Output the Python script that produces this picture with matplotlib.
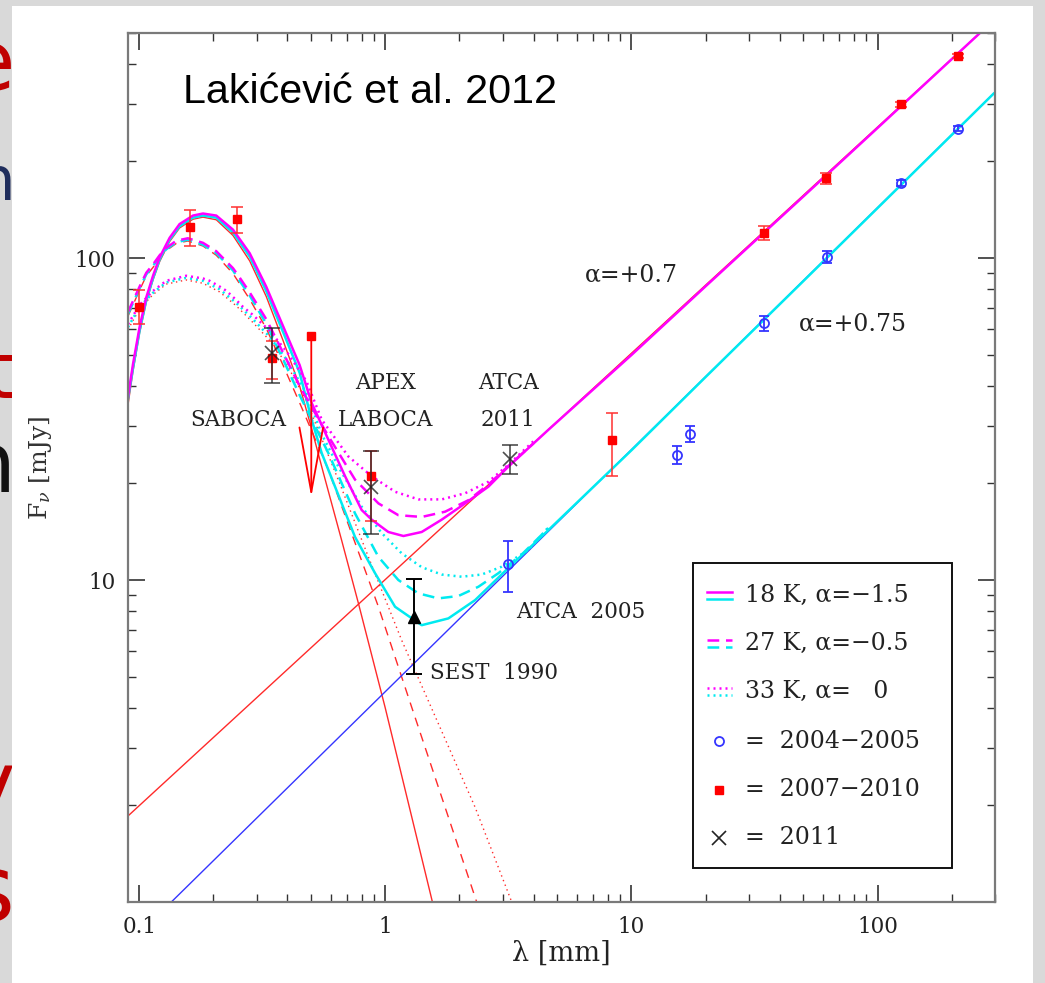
import matplotlib as mpl
mpl.use('Agg')
import matplotlib.pyplot as plt
from matplotlib.patches import Rectangle
from matplotlib.lines import Line2D
from matplotlib.ticker import FixedLocator, FixedFormatter, NullFormatter

mpl.rcParams['font.family'] = 'DejaVu Serif'
mpl.rcParams['mathtext.fontset'] = 'dejavuserif'
mpl.rcParams['font.size'] = 15.5

# --- model curves: wavelength [mm], flux [mJy] ---
# dust components (red)
lam_d18 = [0.09, 0.0943, 0.1003, 0.1068, 0.1137, 0.121, 0.1328, 0.1458, 0.1653, 0.1815, 0.2056,
           0.2404, 0.281, 0.328, 0.3838, 0.4485, 0.5017, 0.56, 0.664, 0.777, 0.997, 1.553]
f_d18 = [35.0, 44.5, 58.5, 73.0, 85.5, 97.5, 112.5, 124.0, 132.0, 134.0, 131.5,
         117.5, 98.0, 76.0, 55.5, 40.0, 29.5, 21.5, 13.3, 8.47, 4.03, 1.0]
lam_d27 = [0.09, 0.1003, 0.1068, 0.1137, 0.121, 0.1288, 0.1414, 0.1576, 0.1815, 0.2056, 0.2404,
           0.281, 0.328, 0.3838, 0.4485, 0.5864, 0.814, 0.937, 1.279, 1.748, 2.35]
f_d27 = [66.0, 79.5, 88.0, 93.5, 100.0, 105.5, 111.0, 113.0, 109.0, 102.0, 89.5,
         74.5, 60.5, 46.5, 35.5, 22.0, 11.1, 8.26, 4.03, 1.97, 1.0]
lam_d33 = [0.09, 0.1003, 0.1137, 0.1288, 0.155, 0.1815, 0.212, 0.248, 0.29, 0.3386, 0.396,
           0.4775, 0.551, 0.66, 0.853, 1.165, 1.642, 2.315, 3.262]
f_d33 = [60.0, 69.5, 77.0, 83.0, 85.5, 83.5, 78.5, 71.0, 63.0, 55.5, 47.0,
         36.0, 27.5, 19.5, 11.8, 6.5, 3.58, 1.97, 1.0]

# synchrotron power laws
lam_s07 = [0.09, 265.0]
f_s07 = [1.85, 506.0]
lam_s075 = [0.135, 296.0]
f_s075 = [1.0, 324.0]

# totals, alpha=+0.7 synchrotron (magenta)
lam_m18 = [0.09, 0.0943, 0.1003, 0.1068, 0.1137, 0.121, 0.1328, 0.1458, 0.1653, 0.1815, 0.2056,
           0.2404, 0.281, 0.328, 0.3838, 0.4485, 0.5017, 0.5864, 0.686, 0.801, 0.880, 1.028,
           1.184, 1.405, 1.694, 2.109, 2.623, 3.16, 4.6, 10, 20, 50, 100, 265]
f_m18 = [37.0, 46.8, 61.0, 75.5, 88.0, 100.5, 115.5, 127.5, 135.5, 137.5, 135.5,
         122.5, 103.5, 81.5, 61.5, 46.5, 35.5, 27.3, 21.0, 16.5, 15.4, 14.1,
         13.7, 14.1, 15.4, 17.3, 19.5, 22.5, 29.3, 50.0, 81.7, 155.5, 253.6, 506.0]
lam_m27 = [0.09, 0.1003, 0.1068, 0.1137, 0.121, 0.1288, 0.1414, 0.1576, 0.1815, 0.2056, 0.2189,
           0.2404, 0.2557, 0.281, 0.328, 0.3838, 0.4485, 0.5864, 0.753, 0.937, 1.129, 1.405,
           1.748, 2.175, 2.623, 3.16, 4.0]
f_m27 = [68.0, 81.5, 90.0, 95.5, 102.0, 107.5, 113.2, 115.2, 111.5, 105.0, 100.0,
         93.0, 87.0, 78.2, 64.6, 50.9, 40.0, 28.0, 20.5, 17.3, 15.9, 15.7,
         16.3, 17.7, 19.8, 22.6, 26.6]
lam_m33 = [0.09, 0.1003, 0.1137, 0.1288, 0.155, 0.1815, 0.193, 0.212, 0.226, 0.248, 0.264,
           0.29, 0.3386, 0.396, 0.4775, 0.551, 0.7073, 0.880, 1.095, 1.362, 1.694, 2.109,
           2.623, 3.16, 4.0]
f_m33 = [62.3, 71.5, 79.0, 85.0, 88.1, 86.4, 85.0, 81.6, 79.1, 74.0, 70.5,
         66.5, 59.4, 51.4, 41.5, 31.5, 24.2, 21.0, 18.8, 17.8, 17.8, 18.6,
         20.2, 22.8, 27.0]

# totals, alpha=+0.75 synchrotron (cyan)
lam_c18 = [0.09, 0.0943, 0.1003, 0.1068, 0.1137, 0.121, 0.1328, 0.1458, 0.1653, 0.1815, 0.2056,
           0.2404, 0.281, 0.328, 0.3838, 0.4485, 0.5017, 0.551, 0.753, 0.908, 1.095, 1.405,
           1.803, 2.315, 3.16, 4.6, 10, 20, 50, 100, 296]
f_c18 = [36.5, 45.5, 59.5, 74.0, 86.5, 99.0, 114.0, 125.5, 133.5, 135.5, 133.5,
         120.0, 101.0, 79.0, 59.0, 44.0, 31.5, 24.8, 13.6, 10.5, 8.26, 7.24,
         7.6, 8.66, 10.9, 14.3, 25.3, 42.7, 84.9, 143.0, 324.0]
lam_c27 = [0.09, 0.1003, 0.1068, 0.1137, 0.121, 0.1288, 0.1414, 0.1576, 0.1815, 0.2056, 0.2189,
           0.2404, 0.2557, 0.281, 0.328, 0.3838, 0.4485, 0.5864, 0.753, 0.937, 1.129, 1.362,
           1.642, 1.98, 2.388, 2.879, 3.58, 4.6]
f_c27 = [67.0, 80.5, 89.0, 94.5, 101.0, 106.5, 112.0, 114.0, 110.0, 103.5, 98.5,
         91.5, 85.0, 76.5, 62.5, 48.5, 37.5, 24.8, 16.1, 11.8, 10.0, 9.09,
         8.77, 8.92, 9.53, 10.5, 12.0, 14.5]
lam_c33 = [0.09, 0.1003, 0.1137, 0.1288, 0.155, 0.1815, 0.212, 0.248, 0.29, 0.3386, 0.396,
           0.4775, 0.551, 0.644, 0.801, 0.966, 1.165, 1.405, 1.694, 2.04, 2.463, 2.97,
           3.814, 4.6]
f_c33 = [61.0, 70.5, 78.0, 84.0, 86.8, 85.0, 80.0, 72.5, 64.5, 57.0, 48.5,
         38.0, 28.4, 22.5, 16.9, 14.0, 12.1, 10.96, 10.4, 10.24, 10.4, 11.0,
         12.4, 14.6]

# --- observations ---
lam_new = [0.1, 0.161, 0.249, 0.347, 0.871, 8.32, 34.7, 61.6, 124.4, 213]   # 2007-2010
f_new = [70.4, 125.0, 132.0, 49.0, 21.0, 27.2, 119.4, 177.0, 300.0, 424.0]
e_new_lo = [8.0, 16.0, 12.0, 7.0, 5.8, 6.2, 5.5, 7.0, 5.0, 6.0]
e_new_hi = [9.0, 16.0, 12.0, 6.3, 4.1, 5.8, 6.0, 7.0, 5.0, 6.0]
lam_old = [3.16, 15.3, 17.3, 34.7, 62.2, 124.4, 213]                      # 2004-2005
f_old = [11.2, 24.5, 28.5, 62.7, 101.0, 171.0, 252.5]
e_old = [2.0, 1.6, 1.6, 3.2, 4.5, 4.0, 5.0]
lam_2011 = [0.347, 0.871, 3.22]
f_2011 = [50.8, 19.5, 23.8]
e_2011 = [10.0, 5.6, 2.5]
lam_sest = [1.31]
f_sest = [7.7]
e_sest = [[2.6], [2.4]]
lam_ul = [0.5, 0.5]          # SABOCA upper limit: value, arrow tip
f_ul = [57.3, 18.1]

leg_labels = ['18 K, α=−1.5', '27 K, α=−0.5', '33 K, α=   0',
              '=  2004−2005', '=  2007−2010', '=  2011']

xticks = [0.1, 1, 10, 100]
xticklabels = ['0.1', '1', '10', '100']
yticks = [10, 100]
yticklabels = ['10', '100']

MAG = '#ff00ff'
CYA = '#00eaf0'
RED = '#ff2a2a'
BLU = '#3535ff'

fig = plt.figure(figsize=(10.45, 9.83), dpi=100, facecolor='#d9d9d9')
W, H = 1045.0, 983.0

# slide text peeking out from behind the pasted figure
for ch, col, ypx, fs in [('e', '#c00000', 90, 60), ('n', '#1f2d5c', 200, 44),
                         ('t', '#c00000', 398, 56), ('n', '#111111', 492, 60),
                         ('y', '#c00000', 812, 60), ('s', '#c00000', 921, 66)]:
    fig.text(15 / W, 1 - ypx / H, ch, color=col, fontsize=fs, family='DejaVu Sans',
             ha='right', va='baseline', zorder=0.1)

fig.patches.append(Rectangle((12 / W, 0), 1021 / W, 977 / H, transform=fig.transFigure,
                             facecolor='white', edgecolor='none', zorder=0.5))

ax = fig.add_axes([128 / W, 1 - 902 / H, 867 / W, 869 / H], zorder=1)
ax.set_xscale('log')
ax.set_yscale('log')

# dust + synchrotron components
ax.plot(lam_d18, f_d18, color=RED, lw=1.0)
ax.plot(lam_d27, f_d27, color=RED, lw=1.0, dashes=(6.5, 5))
ax.plot(lam_d33, f_d33, color=RED, lw=1.0, dashes=(1, 2.6))
ax.plot(lam_s07, f_s07, color=RED, lw=1.0)
ax.plot(lam_s075, f_s075, color=BLU, lw=1.0)

# totals
ax.plot(lam_c18, f_c18, color=CYA, lw=1.8)
ax.plot(lam_c27, f_c27, color=CYA, lw=1.8, dashes=(4.7, 2.7))
ax.plot(lam_c33, f_c33, color=CYA, lw=1.8, dashes=(0.8, 1.6))
ax.plot(lam_m18, f_m18, color=MAG, lw=1.8)
ax.plot(lam_m27, f_m27, color=MAG, lw=1.8, dashes=(4.7, 2.7))
ax.plot(lam_m33, f_m33, color=MAG, lw=1.8, dashes=(0.8, 1.6))

# data
ax.errorbar(lam_new, f_new, yerr=[e_new_lo, e_new_hi], fmt='s', ms=6, color='red',
            ecolor='#ff3030', elinewidth=1.1, capsize=4.5, capthick=1.1, zorder=5)
ax.errorbar(lam_old, f_old, yerr=e_old, fmt='o', ms=6.5, mfc='none', mec=BLU, mew=1.3,
            ecolor=BLU, elinewidth=1.3, capsize=3.5, capthick=1.3, zorder=5)
ax.errorbar(lam_2011, f_2011, yerr=e_2011, fmt='x', ms=10, color='#222222', mew=1.2,
            elinewidth=1.2, capsize=5.5, capthick=1.2, alpha=0.8, zorder=6)
ax.errorbar(lam_sest, f_sest, yerr=e_sest, fmt='^', ms=9, color='black',
            elinewidth=1.4, capsize=5.5, capthick=1.4, zorder=6)
ax.plot(lam_ul[:1], f_ul[:1], 's', ms=6, color='red', zorder=5)
ax.annotate('', xy=(lam_ul[1], f_ul[1]), xytext=(lam_ul[0], f_ul[0]),
            arrowprops=dict(arrowstyle='->,head_length=3.0,head_width=0.55',
                            color='red', lw=1.3, shrinkA=0, shrinkB=0), zorder=5)

# annotations
tc = '#222222'
ax.text(0.2526, 31.5, 'SABOCA', ha='center', va='center', color=tc)
ax.text(1.0, 41.0, 'APEX', ha='center', va='center', color=tc)
ax.text(1.0, 31.5, 'LABOCA', ha='center', va='center', color=tc)
ax.text(3.16, 41.0, 'ATCA', ha='center', va='center', color=tc)
ax.text(3.16, 31.5, '2011', ha='center', va='center', color=tc)
ax.text(3.41, 7.95, 'ATCA  2005', ha='left', va='center', color=tc)
ax.text(1.524, 5.13, 'SEST  1990', ha='left', va='center', color=tc)
ax.text(6.44, 88.5, 'α=+0.7', ha='left', va='center', color=tc, fontsize=17)
ax.text(47.7, 62.3, 'α=+0.75', ha='left', va='center', color=tc, fontsize=17)

fig.text(183 / W, 1 - 92 / H, 'Lakićević et al. 2012', family='Liberation Sans',
         fontsize=29.7, ha='left', va='center', color='black', zorder=3)

# legend, drawn by hand to match the boxed key
def ax_x(px):
    return (px - 128) / 867.0


def ax_y(py):
    return (902 - py) / 869.0


ax.add_patch(Rectangle((ax_x(693), ax_y(868)), ax_x(952) - ax_x(693), ax_y(563) - ax_y(868),
                       transform=ax.transAxes, facecolor='white', edgecolor='#111111',
                       lw=1.4, zorder=7))
rows = [595, 643, 691, 741, 790, 838]
styles = [None, (4.7, 2.7), (0.8, 1.6)]
for r, st in zip(rows[:3], styles):
    for col, dy in [(MAG, -3.5), (CYA, 3.5)]:
        ln = Line2D([ax_x(707), ax_x(732)], [ax_y(r + dy)] * 2, transform=ax.transAxes,
                    color=col, lw=1.8, zorder=8)
        if st is not None:
            ln.set_dashes(st)
        ax.add_line(ln)
ax.plot([ax_x(719)], [ax_y(rows[3])], 'o', ms=6.5, mfc='none', mec=BLU, mew=1.3,
        transform=ax.transAxes, zorder=8)
ax.plot([ax_x(719)], [ax_y(rows[4])], 's', ms=6, color='red', transform=ax.transAxes, zorder=8)
ax.plot([ax_x(719)], [ax_y(rows[5])], 'x', ms=10, mew=1.2, color='#222222',
        transform=ax.transAxes, zorder=8)
for r, lab in zip(rows, leg_labels):
    ax.text(ax_x(745), ax_y(r), lab, transform=ax.transAxes, ha='left', va='center',
            color=tc, fontsize=17, zorder=8)

ax.set_xlim(0.09, 300)
ax.set_ylim(1.0, 500)

ax.xaxis.set_major_locator(FixedLocator(xticks))
ax.xaxis.set_major_formatter(FixedFormatter(xticklabels))
ax.xaxis.set_minor_locator(FixedLocator([m * 10.0 ** e for e in range(-1, 3) for m in range(2, 10)]))
ax.xaxis.set_minor_formatter(NullFormatter())
ax.yaxis.set_major_locator(FixedLocator(yticks))
ax.yaxis.set_major_formatter(FixedFormatter(yticklabels))
ax.yaxis.set_minor_locator(FixedLocator([m * 10.0 ** e for e in range(0, 3) for m in range(2, 10)]))
ax.yaxis.set_minor_formatter(NullFormatter())

ax.tick_params(which='both', direction='in', top=True, right=True, colors='#333333')
ax.tick_params(which='major', length=12, width=1.2, pad=9, labelsize=15.5, labelcolor='#222222')
ax.tick_params(which='minor', length=6, width=1.0)
ax.tick_params(axis='x', which='major', pad=10)
for s in ax.spines.values():
    s.set_color('#7a7a7a')
    s.set_linewidth(1.6)

ax.set_xlabel('λ [mm]', fontsize=19.5, color=tc)
ax.set_ylabel(r'F$_\nu$ [mJy]', fontsize=18, color='#333333')
ax.xaxis.set_label_coords(0.5, -0.043)
ax.yaxis.set_label_coords(-0.0854, 0.5)

fig.savefig('out.png', dpi=100, facecolor=fig.get_facecolor())
